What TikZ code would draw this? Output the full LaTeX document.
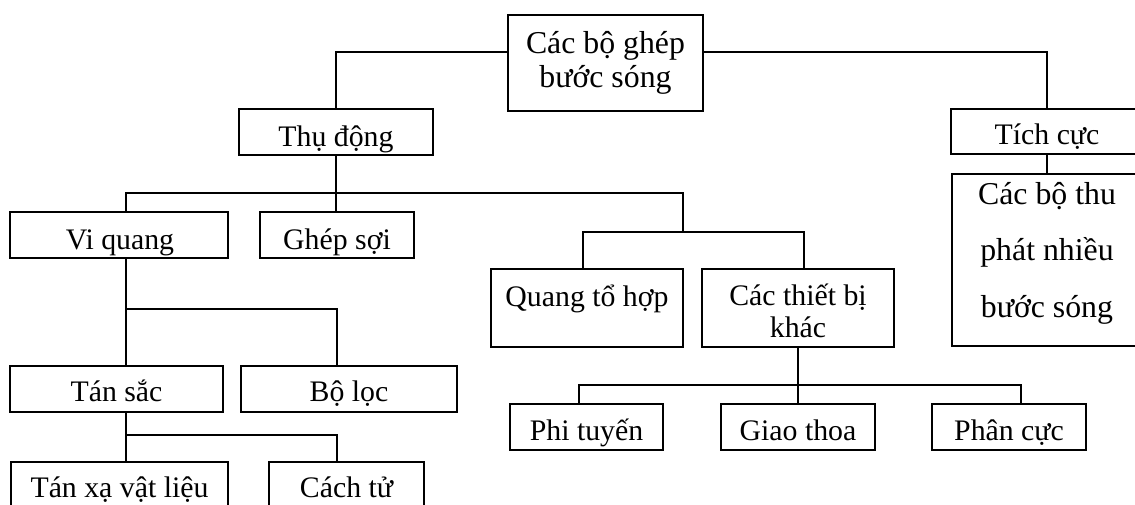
\documentclass[tikz,border=0pt]{standalone}
\usepackage{fontspec}
\setmainfont{Liberation Serif}
\begin{document}
\begin{tikzpicture}[x=1pt,y=-1pt,
  box/.style={draw, line width=1.6pt, rectangle, inner sep=0pt},
  lbl/.style={inner sep=0pt, anchor=base, align=center,
              font=\fontsize{29.8}{34}\selectfont},
  lblroot/.style={lbl, font=\fontsize{31.8}{34}\selectfont},
  lblwide/.style={lbl, font=\fontsize{31.8}{56.5}\selectfont},
  lbltight/.style={lbl, font=\fontsize{29.8}{32}\selectfont},
  link/.style={line width=1.6pt}]
\useasboundingbox (0,0) rectangle (1135,504);
\fill[white] (0,0) rectangle (1135,504);
\clip (0,0) rectangle (1135,504);

% ---- boxes ----
\node[box, minimum width=195pt, minimum height=96pt]  (root)    at (605.5,63)  {};
\node[box, minimum width=194pt, minimum height=46pt]  (thu)     at (336,132)   {};
\node[box, minimum width=192pt, minimum height=45pt]  (tich)    at (1047,131.5){};
\node[box, minimum width=190pt, minimum height=172pt] (thuphat) at (1047,260)  {};
\node[box, minimum width=218pt, minimum height=46pt]  (vq)      at (119,235)   {};
\node[box, minimum width=154pt, minimum height=46pt]  (ghep)    at (337,235)   {};
\node[box, minimum width=192pt, minimum height=78pt]  (qth)     at (587,308)   {};
\node[box, minimum width=192pt, minimum height=78pt]  (ctbk)    at (798,308)   {};
\node[box, minimum width=213pt, minimum height=46pt]  (tansac)  at (116.5,389) {};
\node[box, minimum width=216pt, minimum height=46pt]  (boloc)   at (349,389)   {};
\node[box, minimum width=217pt, minimum height=46pt]  (tanxa)   at (119.5,485) {};
\node[box, minimum width=155pt, minimum height=46pt]  (cachtu)  at (346.5,485) {};
\node[box, minimum width=153pt, minimum height=46pt]  (phi)     at (586.5,427) {};
\node[box, minimum width=154pt, minimum height=46pt]  (giao)    at (798,427)   {};
\node[box, minimum width=154pt, minimum height=46pt]  (phan)    at (1009,427)  {};

% ---- labels (multi-line labels sit on the baseline of their last line) ----
\node[lblroot]  (rootT)    at (605.5,87)  {Các bộ ghép\\bước sóng};
\node[lbl]      (thuT)     at (336,146)   {Thụ động};
\node[lbl]      (tichT)    at (1047,144)  {Tích cực};
\node[lblwide]  (thuphatT) at (1047,317)  {Các bộ thu\\phát nhiều\\bước sóng};
\node[lbl]      (vqT)      at (120,249)   {Vi quang};
\node[lbl]      (ghepT)    at (337,249)   {Ghép sợi};
\node[lbl]      (qthT)     at (587,306)   {Quang tổ hợp};
\node[lbltight] (ctbkT)    at (798,337)   {Các thiết bị\\khác};
\node[lbl]      (tansacT)  at (116.5,401) {Tán sắc};
\node[lbl]      (bolocT)   at (349,401)   {Bộ lọc};
\node[lbl]      (tanxaT)   at (119.5,497) {Tán xạ vật liệu};
\node[lbl]      (cachtuT)  at (346.5,497) {Cách tử};
\node[lbl]      (phiT)     at (586.5,440) {Phi tuyến};
\node[lbl]      (giaoT)    at (798,440)   {Giao thoa};
\node[lbl]      (phanT)    at (1009,440)  {Phân cực};

% ---- junction points ----
\coordinate (j0L) at (336,52);
\coordinate (j0R) at (1047,52);
\coordinate (j1a) at (126,193);
\coordinate (j1b) at (683,193);
\coordinate (j1c) at (683,232);
\coordinate (j2a) at (583,232);
\coordinate (j2b) at (804,232);
\coordinate (j3a) at (579,385);
\coordinate (j3b) at (1021,385);
\coordinate (j4a) at (126,309);
\coordinate (j4b) at (337,309);
\coordinate (j5a) at (126,435);
\coordinate (j5b) at (337,435);

% ---- connectors ----
\draw[link] (root.west |- j0L) -- (j0L) -- (thu.north);
\draw[link] (root.east |- j0R) -- (j0R) -- (tich.north);
\draw[link] (tich.south) -- (thuphat.north);

\draw[link] (thu.south) -- (thu.south |- ghep.north);
\draw[link] (j1a |- vq.north) -- (j1a) -- (j1b) -- (j1c);
\draw[link] (j2a |- qth.north) -- (j2a) -- (j2b) -- (j2b |- ctbk.north);

\draw[link] (ctbk.south) -- (giao.north);
\draw[link] (j3a |- phi.north) -- (j3a) -- (j3b) -- (j3b |- phan.north);

\draw[link] (j4a |- vq.south) -- (j4a |- tansac.north);
\draw[link] (j4a) -- (j4b) -- (j4b |- boloc.north);

\draw[link] (j5a |- tansac.south) -- (j5a |- tanxa.north);
\draw[link] (j5a) -- (j5b) -- (j5b |- cachtu.north);
\end{tikzpicture}
\end{document}
